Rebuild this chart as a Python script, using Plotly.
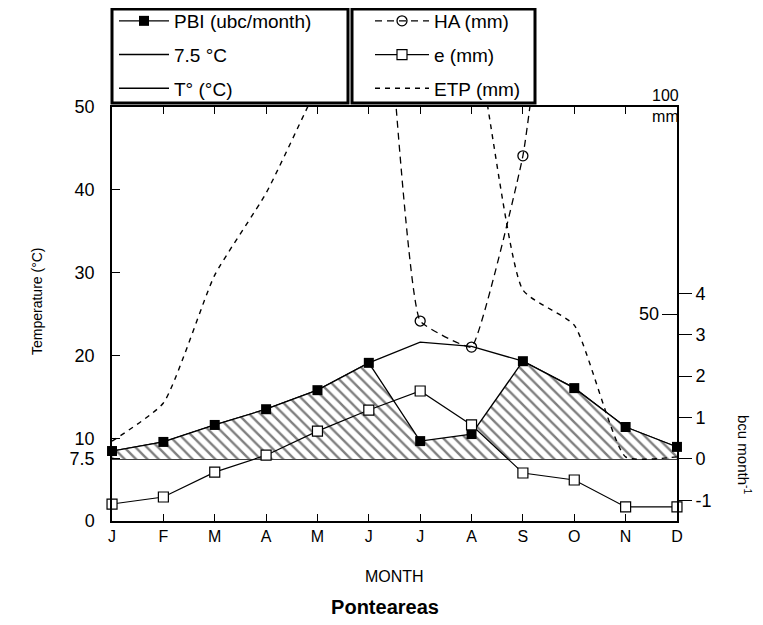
import plotly.graph_objects as go

# ---- data ----
months = list(range(12))
month_labels = ["J", "F", "M", "A", "M", "J", "J", "A", "S", "O", "N", "D"]
temp_c = [8.45, 9.55, 11.6, 13.5, 15.8, 19.1, 21.6, 21.1, 19.3, 16.1, 11.35, 8.9]
threshold_c = [7.5] * 12
pbi_bcu = [0.19, 0.41, 0.82, 1.2, 1.66, 2.32, 0.43, 0.6, 2.36, 1.71, 0.77, 0.29]
ha_mm = [None, None, None, None, None, 195, 48.3, 42.0, 88.2, 190, None, None]
e_mm = [4.1, 5.8, 11.8, 15.9, 21.7, 26.8, 31.4, 23.2, 11.6, 9.9, 3.4, 3.4]
etp_mm = [19.3, 28.5, 59.4, 79.2, 105, 130, 140, 120, 55.8, 47.3, 15.5, 15.5]

left_ticks = [0, 7.5, 10, 20, 30, 40, 50]
left_ticktext = ["0", "7.5", "10", "20", "30", "40", "50"]
bcu_ticks = [-1, 0, 1, 2, 3, 4]
bcu_ticktext = ["-1", "0", "1", "2", "3", "4"]
mm_ticks = [50, 100]
mm_ticktext = ["50", "100<br>mm"]

FONT = "Liberation Sans, Arial, sans-serif"

# page body has an 8px margin -> figure is 747x609 so it fits the 763x625 window
W, H = 747, 609
L, R, T, B = 104, 78, 99, 96
PW, PH = W - L - R, H - T - B


def px_x(x):  # figure px -> paper x
    return (x - L) / PW


def px_y(y):  # figure px -> paper y
    return (H - B - y) / PH


fig = go.Figure()

# hatched area between PBI and 0 bcu (= 7.5 °C)
fig.add_trace(go.Scatter(
    x=months, y=pbi_bcu, yaxis="y2", mode="lines", line=dict(width=0, color="black"),
    fill="tozeroy", fillcolor="rgba(0,0,0,0)",
    fillpattern=dict(shape="\\", fgcolor="black", bgcolor="white", size=8, solidity=0.3),
    showlegend=False, hoverinfo="skip"))

fig.add_trace(go.Scatter(
    x=months, y=threshold_c, mode="lines", name="7.5 °C",
    line=dict(color="black", width=1.6), legend="legend", legendgroup="g2",
    legendrank=2, cliponaxis=False))

fig.add_trace(go.Scatter(
    x=months, y=temp_c, mode="lines", name="T° (°C)",
    line=dict(color="black", width=1.3), legend="legend", legendgroup="g3",
    legendrank=3, cliponaxis=False))

fig.add_trace(go.Scatter(
    x=months, y=pbi_bcu, yaxis="y2", mode="lines+markers", name="PBI (ubc/month)",
    line=dict(color="black", width=1.3),
    marker=dict(symbol="square", size=10, color="black"),
    legend="legend", legendgroup="g1", legendrank=1, cliponaxis=False))

fig.add_trace(go.Scatter(
    x=months, y=e_mm, yaxis="y3", mode="lines+markers", name="e (mm)",
    line=dict(color="black", width=1.2),
    marker=dict(symbol="square", size=10, color="white", line=dict(color="black", width=1.2)),
    legend="legend2", legendgroup="g5", legendrank=5, cliponaxis=False))

fig.add_trace(go.Scatter(
    x=months, y=ha_mm, yaxis="y3", mode="lines+markers", name="HA (mm)",
    line=dict(color="black", width=1.3, dash="7px,5px", shape="spline", smoothing=0.3),
    marker=dict(symbol="circle-open", size=10, color="black", line=dict(width=1.3)),
    legend="legend2", legendgroup="g4", legendrank=4))

fig.add_trace(go.Scatter(
    x=months, y=etp_mm, yaxis="y3", mode="lines", name="ETP (mm)",
    line=dict(color="black", width=1.4, dash="5px,5px", shape="spline", smoothing=0.5),
    legend="legend2", legendgroup="g6", legendrank=6))

legend_common = dict(
    borderwidth=0, bgcolor="rgba(0,0,0,0)",
    font=dict(family=FONT, size=19, color="black"),
    tracegroupgap=6, yanchor="top", xanchor="left", traceorder="grouped")

box_style = dict(type="rect", xref="paper", yref="paper",
                 line=dict(color="black", width=3), fillcolor="white", layer="above")

fig.update_layout(
    width=W, height=H,
    margin=dict(l=L, r=R, t=T, b=B, autoexpand=False),
    paper_bgcolor="white", plot_bgcolor="white",
    font=dict(family=FONT, color="black"),
    title=dict(text="<b>Ponteareas</b>", x=(385 - 8) / W, xref="container", xanchor="center",
               y=10 / H, yref="container", yanchor="middle",
               font=dict(family=FONT, size=20, color="black")),
    legend=dict(x=px_x(106), y=px_y(-6), itemwidth=50, **legend_common),
    legend2=dict(x=px_x(362), y=px_y(-6), itemwidth=54, **legend_common),
    xaxis=dict(range=[-0.0005, 11.0005], tickvals=months, ticktext=month_labels,
               ticks="inside", ticklen=7, tickcolor="black", automargin=False,
               showline=True, linecolor="black", linewidth=1.5, mirror="ticks",
               showgrid=False, zeroline=False, tickfont=dict(size=16)),
    yaxis=dict(range=[0, 50], tickvals=left_ticks, ticktext=left_ticktext,
               ticks="inside", ticklen=8, tickcolor="black", automargin=False,
               showline=True, linecolor="black", linewidth=1.5, mirror=True,
               showgrid=False, zeroline=False, ticklabelstandoff=12,
               tickfont=dict(size=18)),
    yaxis2=dict(overlaying="y", side="right", range=[-1.5, 8.5], tickvals=bcu_ticks,
                ticktext=bcu_ticktext, automargin=False,
                ticks="outside", ticklen=14, tickcolor="black", showline=False,
                showgrid=False, zeroline=False, tickfont=dict(size=18)),
    yaxis3=dict(overlaying="y", side="right", range=[0, 100], tickvals=mm_ticks,
                ticks="inside", ticklen=15, tickcolor="black", showticklabels=False,
                showline=False, automargin=False,
                showgrid=False, zeroline=False),
    shapes=[
        dict(x0=px_x(104), x1=px_x(340), y0=px_y(95), y1=px_y(1), **box_style),
        dict(x0=px_x(344), x1=px_x(527), y0=px_y(95), y1=px_y(1), **box_style),
    ],
    annotations=[
        dict(text="Temperature (°C)", textangle=-90, showarrow=False,
             xref="paper", yref="paper", x=px_x(29), y=px_y(293),
             xanchor="center", yanchor="middle",
             font=dict(family=FONT, size=14, color="black")),
        dict(text="MONTH", showarrow=False, xref="paper", yref="paper",
             x=0.5, y=px_y(568), xanchor="center", yanchor="middle",
             font=dict(family=FONT, size=16, color="black")),
        dict(text="bcu month<sup>-1</sup>", textangle=90, showarrow=False,
             xref="paper", yref="paper", x=px_x(737), y=px_y(447),
             xanchor="center", yanchor="middle",
             font=dict(family=FONT, size=15, color="black")),
        dict(text=mm_ticktext[0], showarrow=False, align="right",
             xref="paper", yref="y3", x=1, y=mm_ticks[0], xanchor="right", yanchor="middle",
             xshift=-16, font=dict(family=FONT, size=18, color="black")),
        dict(text=mm_ticktext[1], showarrow=False, align="right",
             xref="paper", yref="y3", x=1, y=mm_ticks[1], xanchor="right", yanchor="middle",
             xshift=4, yshift=1, font=dict(family=FONT, size=16, color="black")),
    ],
)

fig.write_html("out.html")
